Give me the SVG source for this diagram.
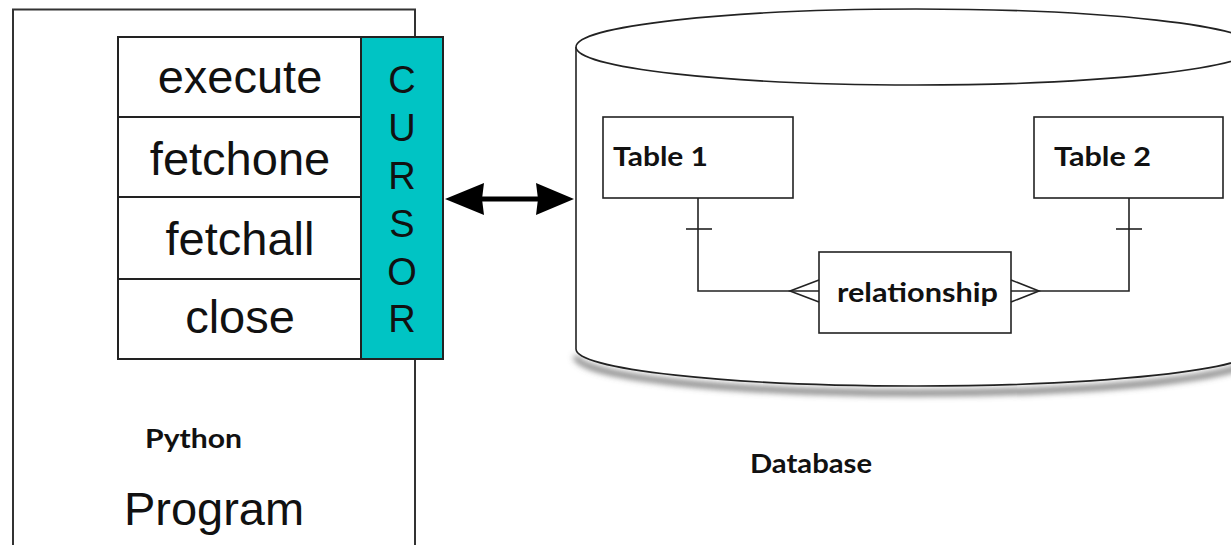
<svg xmlns="http://www.w3.org/2000/svg" width="1231" height="545" viewBox="0 0 1231 545">
  <style>
    .frame { fill: none; stroke: #333; stroke-width: 2; }
    .cell { fill: #fff; stroke: #222; stroke-width: 2; }
    .box { fill: #fff; stroke: #222; stroke-width: 1.6; }
    .wire { fill: none; stroke: #222; stroke-width: 1.6; }
    .method { font-family: "Liberation Sans", Arial, sans-serif; font-size: 47px; fill: #111; text-anchor: middle; }
    .cursor { font-family: "Liberation Sans", Arial, sans-serif; font-size: 38px; fill: #111; text-anchor: middle; }
    .label { font-family: Lato, "Liberation Sans", sans-serif; font-weight: bold; fill: #111; }
  </style>
  <defs>
    <filter id="soft" x="-10%" y="-50%" width="120%" height="200%">
      <feGaussianBlur stdDeviation="3"/>
    </filter>
  </defs>
  <rect width="1231" height="545" fill="#fff"/>

  <!-- Python program frame -->
  <g id="python-program">
    <path class="frame" d="M13 545 V9.5 H415 V545"/>
    <text class="label" x="145" y="448" font-size="27" textLength="97" lengthAdjust="spacingAndGlyphs">Python</text>
    <text class="method" x="214" y="525" font-size="46">Program</text>
  </g>

  <!-- cursor methods -->
  <g id="methods">
    <rect class="cell" x="118" y="37" width="243" height="80"/>
    <rect class="cell" x="118" y="117" width="243" height="80"/>
    <rect class="cell" x="118" y="197" width="243" height="82"/>
    <rect class="cell" x="118" y="279" width="243" height="80"/>
    <text class="method" x="240" y="93">execute</text>
    <text class="method" x="240" y="175">fetchone</text>
    <text class="method" x="240" y="255">fetchall</text>
    <text class="method" x="240" y="333">close</text>
  </g>

  <!-- cursor bar -->
  <g id="cursor">
    <rect x="361" y="37" width="82" height="322" fill="#00c4c4" stroke="#222" stroke-width="2"/>
    <text class="cursor" x="402" y="93">C</text>
    <text class="cursor" x="402" y="141">U</text>
    <text class="cursor" x="402" y="189">R</text>
    <text class="cursor" x="402" y="237">S</text>
    <text class="cursor" x="402" y="285">O</text>
    <text class="cursor" x="402" y="332">R</text>
  </g>

  <!-- database cylinder -->
  <g id="database">
    <path d="M576 352 A340 37 0 0 0 1256 352" fill="none" stroke="#666" stroke-width="5" filter="url(#soft)" transform="translate(0 4)"/>
    <path d="M576 47 V349 A340 37 0 0 0 1256 349 V47" fill="#fff" stroke="#222" stroke-width="1.6"/>
    <ellipse cx="916" cy="47" rx="340" ry="38" fill="#fff" stroke="#222" stroke-width="1.6"/>
    <text class="label" x="750" y="473" font-size="27" textLength="122" lengthAdjust="spacingAndGlyphs">Database</text>
  </g>

  <g id="table-1">
    <rect class="box" x="603" y="117" width="190" height="81"/>
    <text class="label" x="613" y="166" font-size="26" textLength="95" lengthAdjust="spacingAndGlyphs">Table 1</text>
  </g>

  <g id="table-2">
    <rect class="box" x="1034" y="117" width="189" height="81"/>
    <text class="label" x="1054" y="166" font-size="26" textLength="97" lengthAdjust="spacingAndGlyphs">Table 2</text>
  </g>

  <g id="relationship">
    <rect class="box" x="819" y="252" width="192" height="81"/>
    <text class="label" x="837" y="302" font-size="26" textLength="161" lengthAdjust="spacingAndGlyphs">relationship</text>
  </g>

  <!-- connectors -->
  <g id="connectors">
    <!-- program cursor <-> database -->
    <path d="M478 199 H542" stroke="#000" stroke-width="5" fill="none"/>
    <polygon points="445,199 484,183 482,199 484,215" fill="#000"/>
    <polygon points="574,199 536,183 538,199 536,215" fill="#000"/>

    <!-- Table 1 : one  to  many : relationship -->
    <path class="wire" d="M698 198 V291 H819"/>
    <path class="wire" d="M686 229 H712"/>
    <path class="wire" d="M819 280 L790 291 L819 302"/>

    <!-- Table 2 : one  to  many : relationship -->
    <path class="wire" d="M1129 198 V291 H1011"/>
    <path class="wire" d="M1116 229 H1142"/>
    <path class="wire" d="M1011 280 L1039 291 L1011 302"/>
  </g>
</svg>
